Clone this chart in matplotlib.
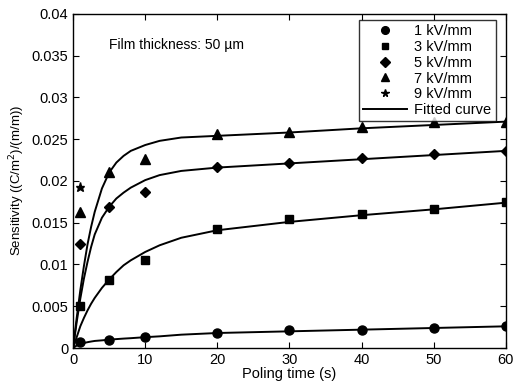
import numpy as np
import matplotlib
matplotlib.use('Agg')
import matplotlib.pyplot as plt

plt.rcParams['font.family'] = ['Liberation Sans', 'DejaVu Sans']

# measured points
t = [1, 5, 10, 20, 30, 40, 50, 60]
s1 = [0.0007, 0.0010, 0.0013, 0.0018, 0.0021, 0.0022, 0.0024, 0.0026]
s3 = [0.0050, 0.0082, 0.0105, 0.0142, 0.0154, 0.0160, 0.0167, 0.0175]
s5 = [0.0125, 0.0169, 0.0187, 0.0217, 0.0222, 0.0227, 0.0232, 0.0236]
s7 = [0.0163, 0.0211, 0.0226, 0.0256, 0.0259, 0.0264, 0.0270, 0.0271]
t9 = [1]
s9 = [0.0193]

# fitted curves
tf = [0, 0.5, 1, 1.5, 2, 2.5, 3, 4, 5, 6, 7, 8, 10, 12, 15, 20, 30, 40, 50, 60]
f1 = [0, 0.0003, 0.0005, 0.0006, 0.0007, 0.00078, 0.00085, 0.00092, 0.0010, 0.00107, 0.00113, 0.00118, 0.0013, 0.0014, 0.0016, 0.0018, 0.0020, 0.0022, 0.0024, 0.0026]
f3 = [0, 0.0013, 0.0026, 0.0036, 0.0045, 0.0053, 0.0060, 0.0072, 0.0082, 0.0091, 0.0099, 0.0105, 0.0115, 0.0123, 0.0132, 0.0141, 0.0151, 0.0159, 0.0166, 0.0174]
f5 = [0, 0.0031, 0.0059, 0.0083, 0.0103, 0.0121, 0.0136, 0.0156, 0.0169, 0.0179, 0.0186, 0.0192, 0.0201, 0.0207, 0.0212, 0.0216, 0.0221, 0.0226, 0.0231, 0.0236]
f7 = [0, 0.0036, 0.0069, 0.0098, 0.0124, 0.0145, 0.0163, 0.0191, 0.0210, 0.0222, 0.0230, 0.0236, 0.0243, 0.0248, 0.0252, 0.0254, 0.0258, 0.0263, 0.0267, 0.0271]

labels = ['1 kV/mm', '3 kV/mm', '5 kV/mm', '7 kV/mm', '9 kV/mm']

fig = plt.figure(figsize=(5.22, 3.85), dpi=100)
ax = fig.add_axes([0.140, 0.096, 0.829, 0.868])

for f in [f1, f3, f5, f7]:
    ax.plot(tf, f, color='black', lw=1.4)

ax.plot(t, s1, 'o', color='black', ms=6.5, label=labels[0])
ax.plot(t, s3, 's', color='black', ms=5.5, label=labels[1])
ax.plot(t, s5, 'D', color='black', ms=5.5, label=labels[2])
ax.plot(t, s7, '^', color='black', ms=6.5, label=labels[3])
ax.plot(t9, s9, '*', color='black', ms=6.5, label=labels[4])
ax.plot([], [], '-', color='black', lw=1.4, label='Fitted curve')

ax.set_xlim(0, 60)
ax.set_ylim(0, 0.04)
ax.set_xticks(range(0, 61, 10))
yt = [0, 0.005, 0.01, 0.015, 0.02, 0.025, 0.03, 0.035, 0.04]
ax.set_yticks(yt)
ax.set_yticklabels(['0', '0.005', '0.01', '0.015', '0.02', '0.025', '0.03', '0.035', '0.04'])
ax.tick_params(direction='in', top=True, right=True, labelsize=10.5, length=4, width=0.8)
for sp in ax.spines.values():
    sp.set_linewidth(1.0)

ax.set_xlabel('Poling time (s)', fontsize=10.5, labelpad=0)
ax.set_ylabel('Sensitivity ((C/m$^2$)/(m/m))', fontsize=9.5, labelpad=3)
ax.text(0.083, 0.895, 'Film thickness: 50 \u00b5m', transform=ax.transAxes, fontsize=10)

leg = ax.legend(loc='upper right', bbox_to_anchor=(0.977, 0.982), borderaxespad=0,
                fontsize=10.5, frameon=True, fancybox=False, edgecolor='black',
                handlelength=3.0, handletextpad=0.5, labelspacing=0.12, borderpad=0.3,
                markerfirst=True, markerscale=0.85)
leg.get_frame().set_linewidth(1.0)

fig.savefig('out.png', dpi=100)
